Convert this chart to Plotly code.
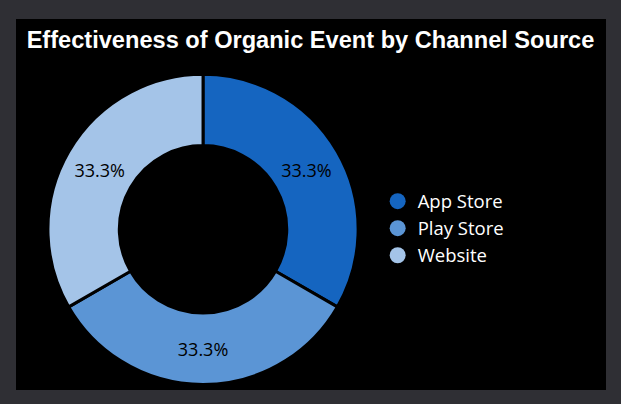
import plotly.graph_objects as go

categories = ["App Store", "Play Store", "Website"]
values = [1, 1, 1]
colors = ["#1565C0", "#5B95D5", "#A4C4E8"]
title_text = "Effectiveness of Organic Event by Channel Source"

fig = go.Figure()

fig.add_trace(go.Pie(
    labels=categories,
    values=values,
    hole=0.54,
    sort=False,
    direction="clockwise",
    rotation=0,
    marker=dict(colors=colors, line=dict(color="#000000", width=3)),
    texttemplate="%{percent:.1%}",
    textposition="inside",
    insidetextorientation="horizontal",
    textfont=dict(color="#000000", size=18, family="Open Sans"),
    domain=dict(x=[0.054, 0.58], y=[0.015, 0.851]),
    showlegend=False,
    hoverinfo="label+percent",
))

for name, col in zip(categories, colors):
    fig.add_trace(go.Scatter(
        x=[None], y=[None], mode="markers", name=name,
        marker=dict(symbol="circle", size=20, color=col),
        showlegend=True,
    ))

fig.update_layout(
    width=621, height=404,
    paper_bgcolor="#2f2f34",
    plot_bgcolor="#000000",
    margin=dict(l=16, r=15, t=19, b=14),
    xaxis=dict(visible=False),
    yaxis=dict(visible=False),
    shapes=[dict(type="rect", xref="paper", yref="paper", x0=0, x1=1, y0=0, y1=1,
                 fillcolor="#000000", line=dict(width=0), layer="below")],
    title=dict(text="<b>" + title_text + "</b>", x=0.5, xanchor="center",
               y=1 - 40 / 404, yanchor="middle", yref="container",
               font=dict(family="Liberation Sans, Arial", size=23.6, color="#ffffff")),
    legend=dict(x=0.613, xanchor="left", y=0.435, yanchor="middle",
                font=dict(family="Open Sans", size=18.5, color="#ffffff"),
                bgcolor="rgba(0,0,0,0)", itemsizing="trace"),
)

fig.write_html("out.html")
